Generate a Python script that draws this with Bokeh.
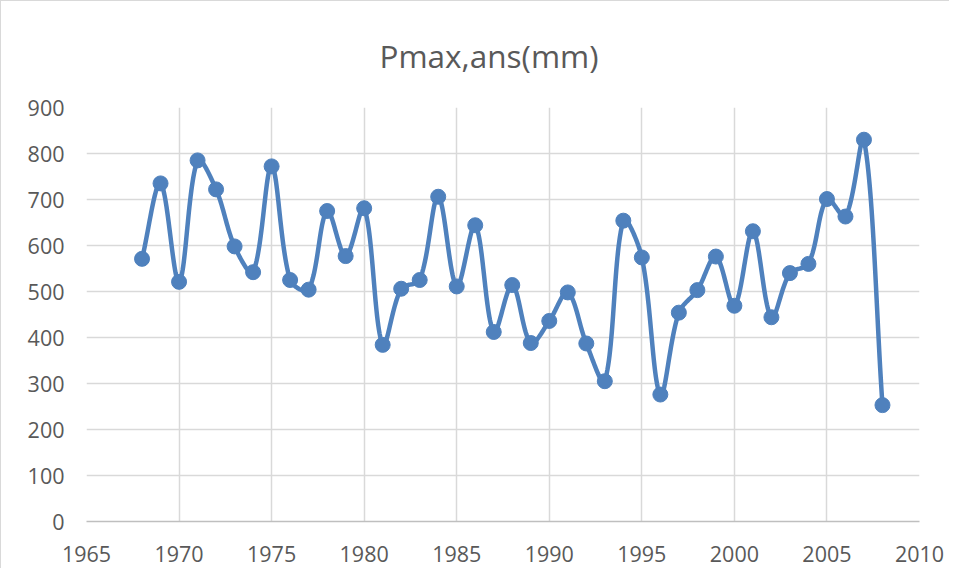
import numpy as np
from bokeh.plotting import figure
from bokeh.models import Range1d, FixedTicker
from bokeh.embed import file_html
from bokeh.resources import INLINE

# ---- data ----
years = list(range(1968, 2009))
pmax = [571, 735, 521, 785, 722, 598, 542, 772, 525, 504,
        675, 577, 681, 384, 506, 525, 706, 511, 644, 412,
        514, 388, 436, 498, 387, 305, 654, 574, 276, 454,
        503, 576, 469, 631, 444, 540, 560, 701, 663, 830, 253]
x_ticks = [1965, 1970, 1975, 1980, 1985, 1990, 1995, 2000, 2005, 2010]
y_ticks = [0, 100, 200, 300, 400, 500, 600, 700, 800, 900]
title_text = "Pmax,ans(mm)"

LINE = "#4F81BD"
TXT = "#595959"
GRID = "#d9d9d9"
FONT = "Open Sans"

W, H = 949, 568
ML, MR, MT, MB = 85, 31, 105, 48


def smooth(xs, ys, kx, ky, n=30):
    """Spreadsheet-style smoothed line: Catmull-Rom Bezier whose control
    points are weighted by the neighbouring segment lengths (screen space)."""
    X = np.asarray(xs, float) * kx
    Y = np.asarray(ys, float) * ky
    P = np.stack([X, Y], axis=1)
    m = len(P)

    def pt(i):
        return P[min(max(i, 0), m - 1)]

    def dist(a, b):
        return float(np.hypot(*(b - a)))

    ox, oy = [], []
    t = np.linspace(0, 1, n, endpoint=False)[:, None]
    for i in range(m - 1):
        p0, p1, p2, p3 = pt(i - 1), pt(i), pt(i + 1), pt(i + 2)
        d01, d12, d23 = dist(p0, p1), dist(p1, p2), dist(p2, p3)
        r1 = d12 / (d01 + d12) if d01 + d12 > 0 else 0.5
        r2 = d12 / (d12 + d23) if d12 + d23 > 0 else 0.5
        c1 = p1 + (p2 - p0) * r1 / 3.0
        c2 = p2 - (p3 - p1) * r2 / 3.0
        b = ((1 - t) ** 3) * p1 + 3 * ((1 - t) ** 2) * t * c1 + 3 * (1 - t) * t * t * c2 + t ** 3 * p2
        ox.extend(b[:, 0] / kx)
        oy.extend(b[:, 1] / ky)
    ox.append(xs[-1])
    oy.append(ys[-1])
    return ox, oy


p = figure(width=W, height=H, output_backend="svg", toolbar_location=None,
           x_range=Range1d(x_ticks[0], x_ticks[-1]),
           y_range=Range1d(y_ticks[0], y_ticks[-1]),
           min_border_left=ML, min_border_right=MR,
           min_border_top=MT, min_border_bottom=MB,
           title=title_text)

p.styles = {"border-top": "1px solid #d9d9d9", "border-left": "1px solid #d9d9d9"}

p.title.align = "left"
p.title.offset = 293
p.title.text_font = FONT
p.title.text_font_size = "31.5px"
p.title.text_font_style = "normal"
p.title.text_color = TXT
p.title.standoff = 61

p.outline_line_color = None
p.background_fill_color = "white"
p.border_fill_color = "white"

p.xaxis.ticker = FixedTicker(ticks=x_ticks)
p.yaxis.ticker = FixedTicker(ticks=y_ticks)
for ax in (p.xaxis, p.yaxis):
    ax.major_tick_line_color = None
    ax.minor_tick_line_color = None
    ax.major_label_text_font = FONT
    ax.major_label_text_font_size = "21.5px"
    ax.major_label_text_color = TXT
p.xaxis.axis_line_color = "#bfbfbf"
p.xaxis.axis_line_width = 1.5
p.yaxis.axis_line_color = None
p.xaxis.major_label_standoff = 18
p.yaxis.major_label_standoff = 16

p.xgrid.grid_line_color = GRID
p.ygrid.grid_line_color = GRID
p.xgrid.grid_line_width = 1.5
p.ygrid.grid_line_width = 1.5

frame_w = W - ML - MR
frame_h = H - MT - MB
kx = frame_w / (x_ticks[-1] - x_ticks[0])
ky = frame_h / (y_ticks[-1] - y_ticks[0])
sx, sy = smooth(years, pmax, kx, ky)
p.line(sx, sy, line_color=LINE, line_width=4.5, line_join="round")
p.scatter(years, pmax, size=15, fill_color=LINE, line_color=LINE)

open("out.html", "w").write(file_html(p, INLINE))
